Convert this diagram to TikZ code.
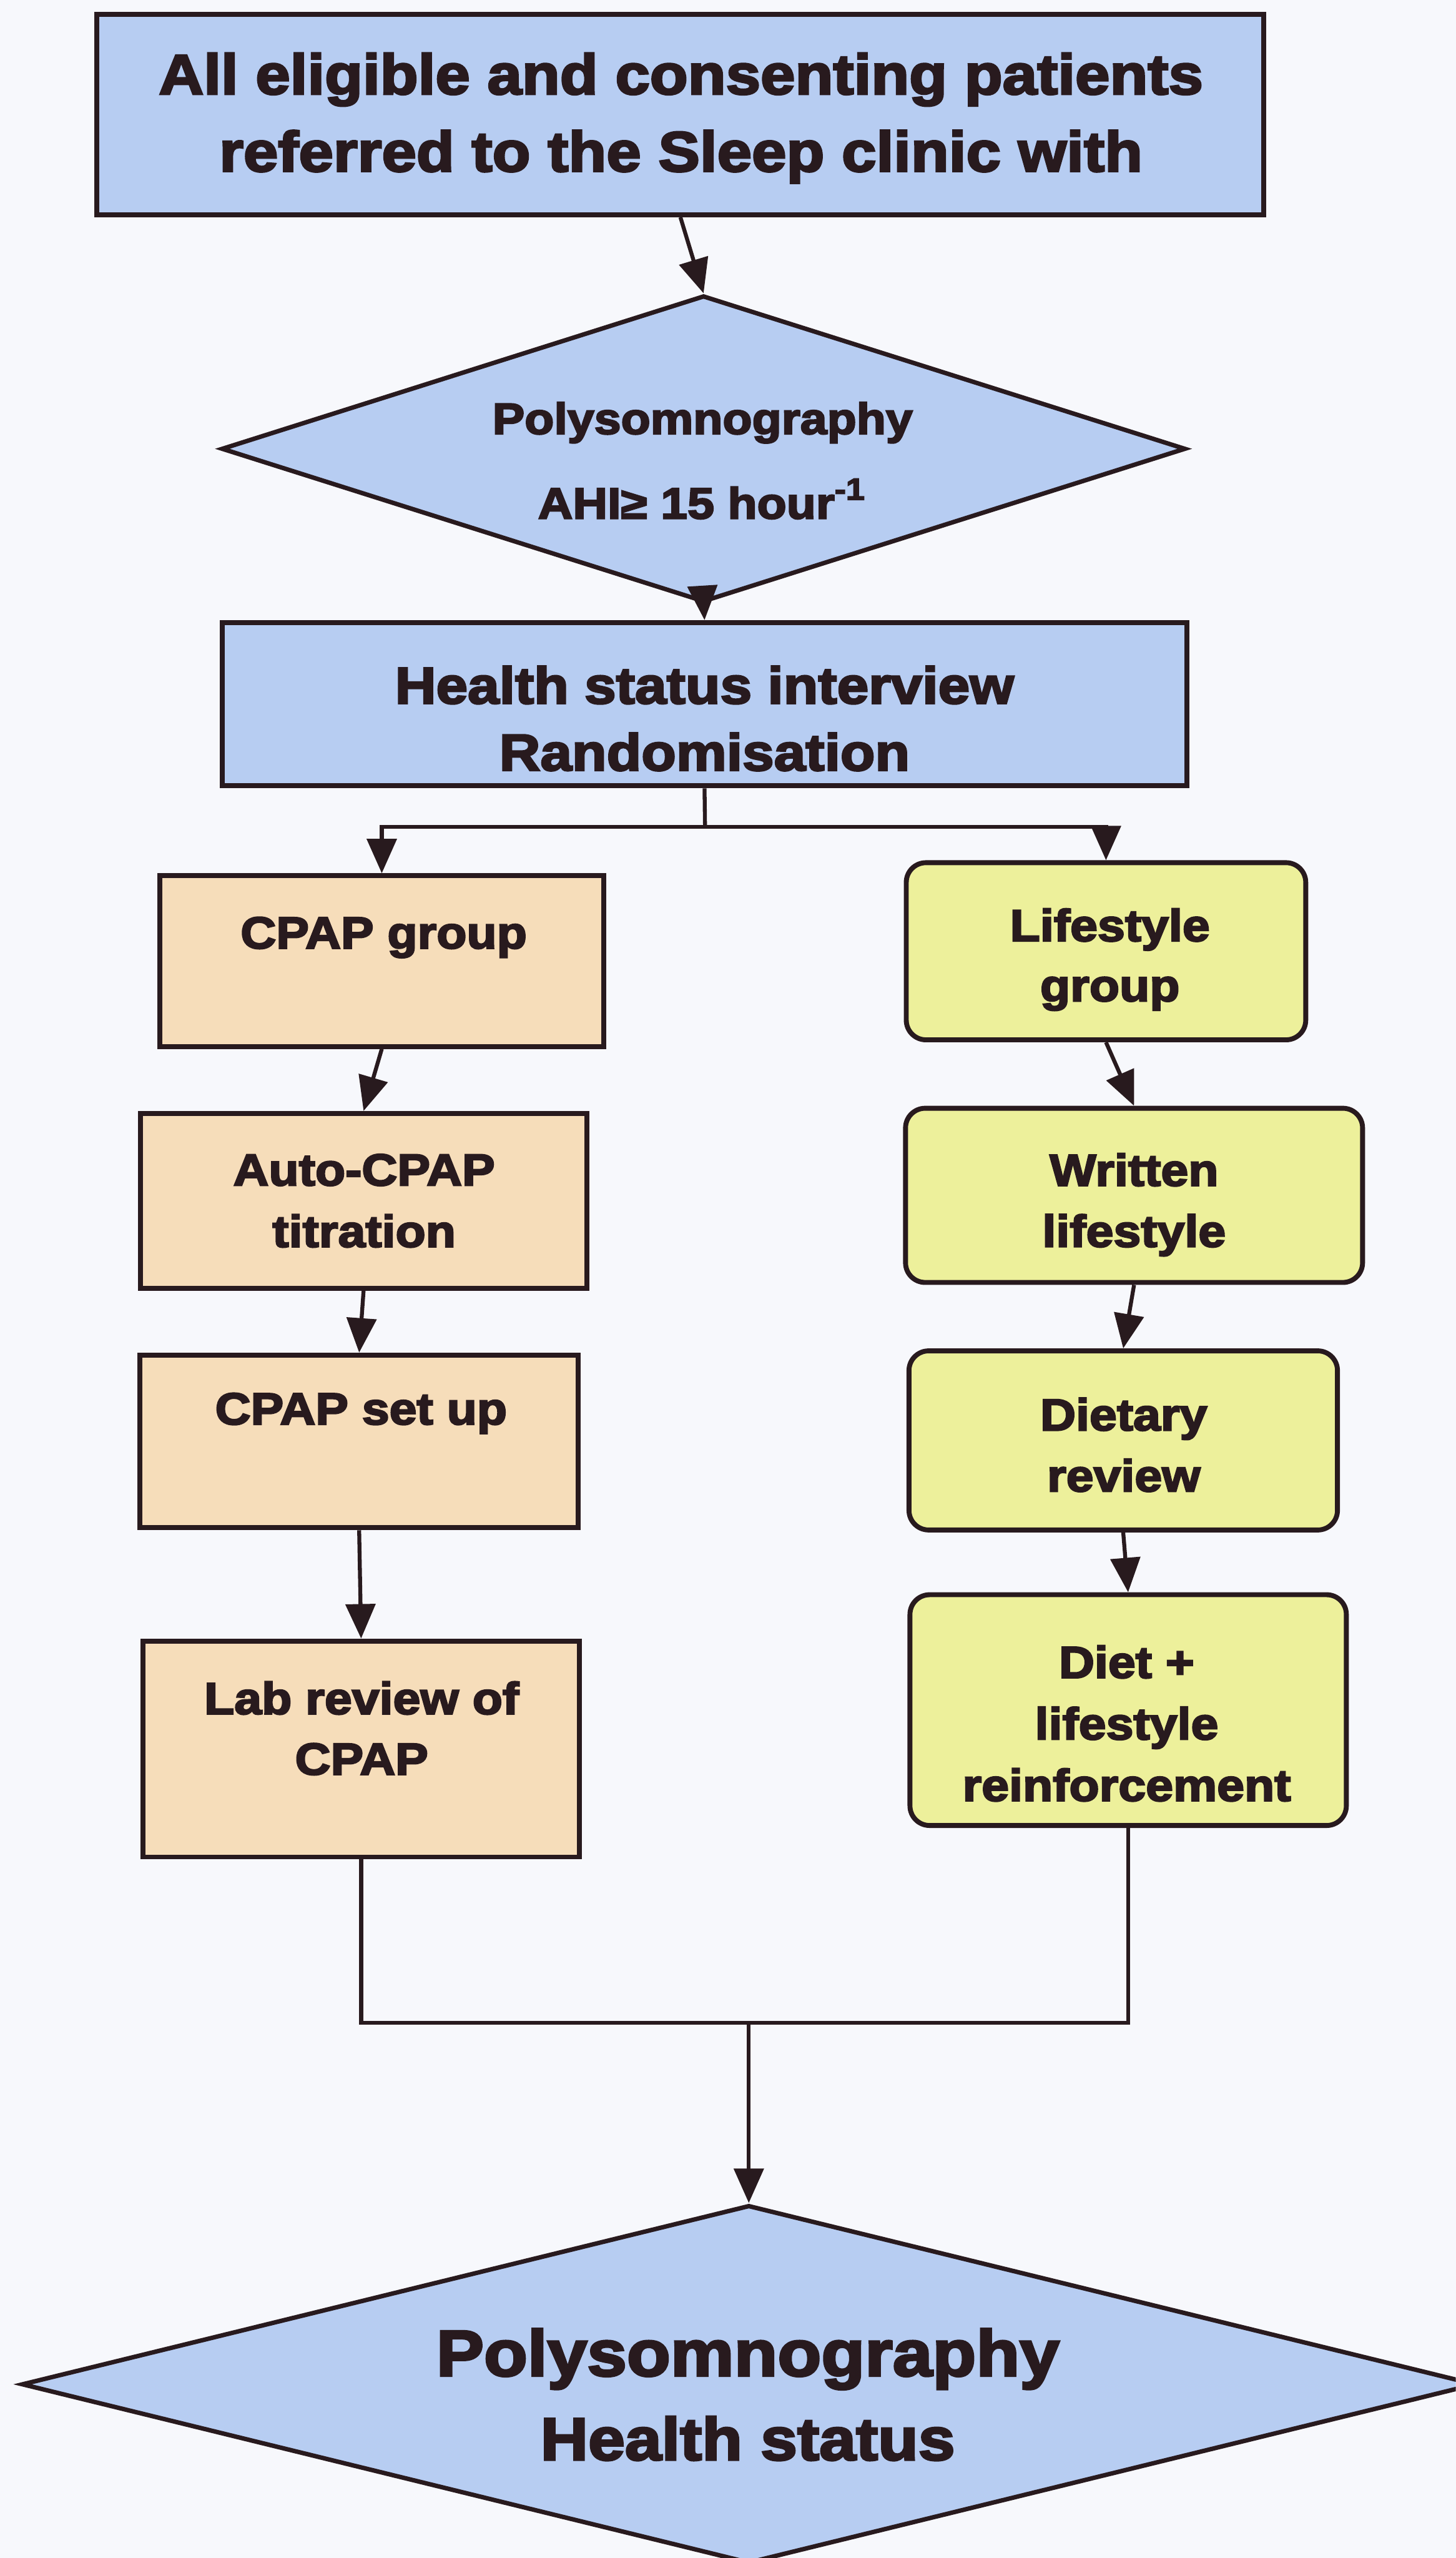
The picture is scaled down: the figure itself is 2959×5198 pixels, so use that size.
\documentclass[tikz,border=0pt]{standalone}
\usepackage{fontspec}
\setmainfont{Liberation Sans}[BoldFeatures={FakeStretch=1.1,FakeBold=3.5}]
\usetikzlibrary{shapes.geometric,arrows.meta}
\definecolor{bgc}{RGB}{247,248,252}
\definecolor{bluef}{RGB}{183,205,242}
\definecolor{peach}{RGB}{246,221,186}
\definecolor{yell}{RGB}{237,240,155}
\definecolor{ink}{RGB}{40,26,30}
\begin{document}
\begin{tikzpicture}[x=0.1pt,y=-0.1pt,
  boxbase/.style={draw=ink, line width=1pt, inner sep=0pt},
  bluebox/.style={boxbase, fill=bluef},
  cpapbox/.style={boxbase, fill=peach},
  lifebox/.style={boxbase, fill=yell, rounded corners=4pt},
  decide/.style={diamond, draw=ink, line width=0.9pt, fill=bluef, inner sep=0pt},
  lbl/.style={align=center, inner sep=0pt, text=ink},
  conn/.style={draw=ink, line width=0.8pt},
  arr/.style={conn, -{Triangle[length=7pt,width=6pt]}}
]
\fill[bgc] (0,0) rectangle (2959,5198);
\useasboundingbox (0,0) rectangle (2959,5198);
\clip (0,0) rectangle (2959,5198);

% top box
\node[bluebox, minimum width=237.2pt, minimum height=40.7pt] (top) at (1383,233) {};
\node[lbl, font=\bfseries\fontsize{11.5pt}{15.7pt}\selectfont] (topt) at (1384,240)
  {All eligible and consenting patients\\referred to the Sleep clinic with};

% first diamond
\node[decide, minimum width=196pt, minimum height=62.3pt] (d1) at (1430,912) {};
\node[lbl, font=\bfseries\fontsize{8.9pt}{17.2pt}\selectfont] (d1t) at (1428,936)
  {Polysomnography\\AHI≥ 15 hour\textsuperscript{-1}};

% health status
\node[bluebox, minimum width=196.1pt, minimum height=33.2pt] (hs) at (1432,1431) {};
\node[lbl, font=\bfseries\fontsize{10.5pt}{13.6pt}\selectfont] (hst) at (1432,1460)
  {Health status interview\\Randomisation};

% CPAP column
\node[cpapbox, minimum width=90.3pt, minimum height=34.7pt] (cg) at (776,1953) {};
\node[lbl, font=\bfseries\fontsize{9.1pt}{12.5pt}\selectfont] (cgt) at (780,1905) {CPAP group};

\node[cpapbox, minimum width=90.8pt, minimum height=35.5pt] (ac) at (739,2440) {};
\node[lbl, font=\bfseries\fontsize{9.1pt}{12.5pt}\selectfont] (act) at (740,2440) {Auto-CPAP\\titration};

\node[cpapbox, minimum width=89.1pt, minimum height=35.1pt] (cs) at (730,2929) {};
\node[lbl, font=\bfseries\fontsize{9.1pt}{12.5pt}\selectfont] (cst) at (734,2872) {CPAP set up};

\node[cpapbox, minimum width=88.7pt, minimum height=43.9pt] (lr) at (734,3554) {};
\node[lbl, font=\bfseries\fontsize{9.1pt}{12.3pt}\selectfont] (lrt) at (735,3512) {Lab review of\\CPAP};

% Lifestyle column
\node[lifebox, minimum width=81.2pt, minimum height=36pt] (lg) at (2248,1933) {};
\node[lbl, font=\bfseries\fontsize{9.1pt}{12.2pt}\selectfont] (lgt) at (2256,1950) {Lifestyle\\group};

\node[lifebox, minimum width=92.9pt, minimum height=35.4pt] (wl) at (2305,2429) {};
\node[lbl, font=\bfseries\fontsize{9.1pt}{12.4pt}\selectfont] (wlt) at (2305,2448) {Written\\lifestyle};

\node[lifebox, minimum width=87.1pt, minimum height=36.4pt] (dr) at (2283,2927) {};
\node[lbl, font=\bfseries\fontsize{9.1pt}{12.4pt}\selectfont] (drt) at (2284,2936) {Dietary\\review};

\node[lifebox, minimum width=88.7pt, minimum height=46.9pt] (dl) at (2293,3475) {};
\node[lbl, font=\bfseries\fontsize{9.1pt}{12.5pt}\selectfont] (dlt) at (2290,3502) {Diet +\\lifestyle\\reinforcement};

% bottom diamond
\node[decide, minimum width=295.6pt, minimum height=72.8pt] (d2) at (1522,4845) {};
\node[lbl, font=\bfseries\fontsize{12.6pt}{17.1pt}\selectfont] (d2t) at (1520,4866)
  {{\fontsize{13.2pt}{17.1pt}\selectfont Polysomnography}\\{\fontsize{12.2pt}{17.1pt}\selectfont Health status}};

% connectors
\draw[arr] (top.south) -- (d1.north);
\draw[arr] (d1.south) -- (hs.north);
\coordinate (split) at (1433,1680);
\draw[conn] (hs.south) -- (split);
\draw[arr] (split) -| (cg.north);
\draw[arr] (split) -| (lg.north);

\draw[arr] (cg.south) -- (ac.north);
\draw[arr] (ac.south) -- (cs.north);
\draw[arr] (cs.south) -- (lr.north);

\draw[arr] (lg.south) -- (wl.north);
\draw[arr] (wl.south) -- (dr.north);
\draw[arr] (dr.south) -- (dl.north);

\coordinate (merge) at (1522,4110);
\draw[conn] (lr.south) |- (merge);
\draw[conn] (dl.south) |- (merge);
\draw[arr] (merge) -- (d2.north);
\end{tikzpicture}
\end{document}
